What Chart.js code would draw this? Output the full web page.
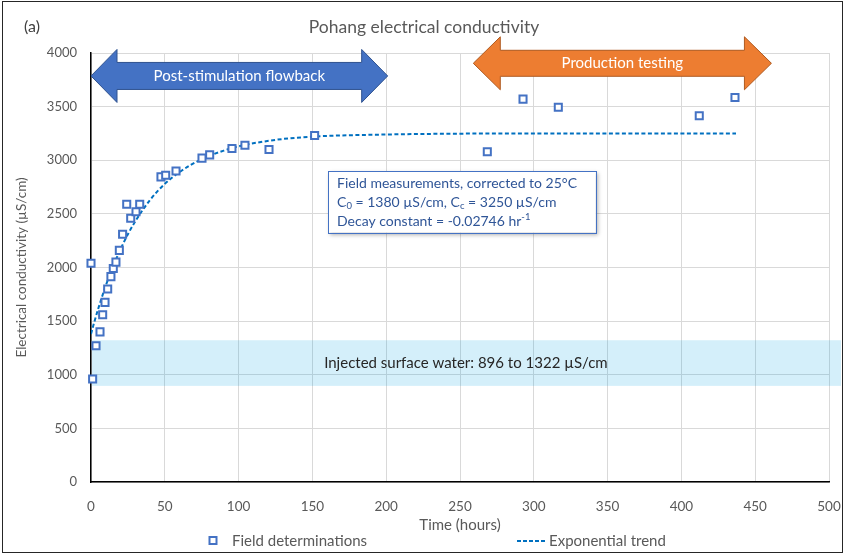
<!DOCTYPE html>
<html>
<head>
<meta charset="utf-8">
<title>Pohang electrical conductivity</title>
<script src="https://cdn.jsdelivr.net/npm/chart.js@4.4.1/dist/chart.umd.min.js"></script>
<style>
  html, body { margin: 0; padding: 0; background: #fff; }
  #wrap { width: 844px; height: 554px; }
</style>
</head>
<body>
<div id="wrap"><canvas id="myChart" width="844" height="554"></canvas></div>
<script>
'use strict';

// **************************** DATA ****************************

// field determinations
let fieldHours = [0, 1.1, 3.4, 6.1, 7.9, 9.5, 11.3, 13.5, 15.1, 16.9, 19.2, 21.4, 24.2, 26.9, 30.5, 33,
  47.4, 50.6, 57.6, 75.2, 80.4, 95.5, 104.3, 120.6, 151.5, 268.5, 292.7, 316.6, 412.1, 436.3];
let fieldEC = [2040, 960, 1270, 1400, 1560, 1675, 1800, 1915, 1990, 2050, 2160, 2310, 2590, 2460, 2520, 2590,
  2845, 2860, 2900, 3020, 3050, 3110, 3140, 3100, 3230, 3080, 3570, 3495, 3415, 3585];

// exponential trend
let trendHours = [0, 2, 5, 10, 15, 20, 25, 30, 40, 50, 60, 75, 90, 100, 125, 150, 200, 250, 300, 437];
let trendEC = [1380, 1480, 1620, 1830, 2010, 2170, 2310, 2430, 2630, 2780, 2890, 3010, 3090, 3130, 3190, 3220, 3240, 3248, 3250, 3250];

let xTicks = [0, 50, 100, 150, 200, 250, 300, 350, 400, 450, 500];
let yTicks = [0, 500, 1000, 1500, 2000, 2500, 3000, 3500, 4000];

// injected surface water range (µS/cm)
let bandLow = 896;
let bandHigh = 1322;

// period arrows (hours)
let flowbackPeriod = [0, 201];
let productionPeriod = [259, 461];

// **************************** STYLE ****************************

let fontFamily = 'Lato, "Open Sans", sans-serif';
let textGrey = '#595959';
let markerBlue = '#4472C4';
let trendBlue = '#0070C0';

// **************************** CANVAS REFERENCE ****************************

let ctx = document.getElementById('myChart');

// **************************** HELPERS ****************************

function drawDoubleArrow(c, x1, x2, yMid, bodyHalf, headHalf, headLen, fill, stroke, label) {
  c.save();
  c.beginPath();
  c.moveTo(x1, yMid);
  c.lineTo(x1 + headLen, yMid - headHalf);
  c.lineTo(x1 + headLen, yMid - bodyHalf);
  c.lineTo(x2 - headLen, yMid - bodyHalf);
  c.lineTo(x2 - headLen, yMid - headHalf);
  c.lineTo(x2, yMid);
  c.lineTo(x2 - headLen, yMid + headHalf);
  c.lineTo(x2 - headLen, yMid + bodyHalf);
  c.lineTo(x1 + headLen, yMid + bodyHalf);
  c.lineTo(x1 + headLen, yMid + headHalf);
  c.closePath();
  c.fillStyle = fill;
  c.fill();
  c.lineWidth = 1;
  c.strokeStyle = stroke;
  c.stroke();
  c.fillStyle = '#ffffff';
  c.font = '15px ' + fontFamily;
  c.textAlign = 'center';
  c.textBaseline = 'middle';
  c.fillText(label, (x1 + x2) / 2, yMid);
  c.restore();
}

// draws a list of [text, mode] pieces; mode '' normal, 'sub' subscript, 'sup' superscript
function drawRichLine(c, pieces, x, y) {
  let cx = x;
  for (let i = 0; i < pieces.length; i++) {
    let txt = pieces[i][0];
    let mode = pieces[i][1];
    let dy = 0;
    if (mode === 'sub') {
      c.font = '9.5px ' + fontFamily;
      dy = 3;
    } else if (mode === 'sup') {
      c.font = '9.5px ' + fontFamily;
      dy = -5;
    } else {
      c.font = '14px ' + fontFamily;
    }
    c.fillText(txt, cx, y + dy);
    cx += c.measureText(txt).width;
  }
}

// **************************** PLUGINS ****************************

let bandPlugin = {
  id: 'bandPlugin',
  beforeDatasetsDraw(chart) {
    let c = chart.ctx;
    let area = chart.chartArea;
    let yScale = chart.scales.y;
    let xScale = chart.scales.x;
    let yTop = yScale.getPixelForValue(bandHigh);
    let yBot = yScale.getPixelForValue(bandLow);
    c.save();
    c.fillStyle = 'rgba(0, 160, 225, 0.17)';
    c.fillRect(area.left + 1, yTop, chart.width - 3 - area.left - 1, yBot - yTop);
    c.fillStyle = '#262626';
    c.font = '15px ' + fontFamily;
    c.textAlign = 'center';
    c.textBaseline = 'middle';
    c.fillText('Injected surface water: ' + bandLow + ' to ' + bandHigh + ' \u00B5S/cm',
      xScale.getPixelForValue(254), (yTop + yBot) / 2);
    c.restore();
  }
};

let annotationPlugin = {
  id: 'annotationPlugin',
  afterDraw(chart) {
    let c = chart.ctx;
    let xScale = chart.scales.x;
    let yScale = chart.scales.y;

    // titles
    c.save();
    c.textBaseline = 'middle';
    c.fillStyle = '#404040';
    c.font = '16px ' + fontFamily;
    c.textAlign = 'left';
    c.fillText('(a)', 24, 27);
    c.fillStyle = textGrey;
    c.font = '17.5px ' + fontFamily;
    c.textAlign = 'center';
    c.fillText('Pohang electrical conductivity', 424, 27);
    c.restore();

    // period arrows
    drawDoubleArrow(c, xScale.getPixelForValue(flowbackPeriod[0]), xScale.getPixelForValue(flowbackPeriod[1]),
      yScale.getPixelForValue(3786), 13.5, 26.5, 26, '#4472C4', '#2F528F', 'Post-stimulation flowback');
    drawDoubleArrow(c, xScale.getPixelForValue(productionPeriod[0]), xScale.getPixelForValue(productionPeriod[1]),
      yScale.getPixelForValue(3904), 13, 26.5, 27, '#ED7D31', '#AE5A21', 'Production testing');

    // text box
    let bx1 = xScale.getPixelForValue(160.6);
    let bx2 = xScale.getPixelForValue(342);
    let by1 = yScale.getPixelForValue(2900);
    let by2 = yScale.getPixelForValue(2325);
    c.save();
    c.shadowColor = 'rgba(0, 0, 0, 0.3)';
    c.shadowBlur = 4;
    c.shadowOffsetX = 2;
    c.shadowOffsetY = 2;
    c.fillStyle = '#ffffff';
    c.fillRect(bx1, by1, bx2 - bx1, by2 - by1);
    c.restore();
    c.save();
    c.strokeStyle = markerBlue;
    c.lineWidth = 1;
    c.strokeRect(Math.round(bx1) + 0.5, Math.round(by1) + 0.5, Math.round(bx2 - bx1), Math.round(by2 - by1));
    c.fillStyle = '#2F5597';
    c.textAlign = 'left';
    c.textBaseline = 'middle';
    drawRichLine(c, [['Field measurements, corrected to 25\u00B0C', '']], bx1 + 9, by1 + 13);
    drawRichLine(c, [['C', ''], ['0', 'sub'], [' = 1380 \u00B5S/cm, C', ''], ['c', 'sub'], [' = 3250 \u00B5S/cm', '']], bx1 + 9, by1 + 32);
    drawRichLine(c, [['Decay constant = -0.02746 hr', ''], ['-1', 'sup']], bx1 + 9, by1 + 51);
    c.restore();

    // legend
    let ly = 541;
    c.save();
    c.strokeStyle = markerBlue;
    c.lineWidth = 2;
    c.strokeRect(209.5, ly - 4, 7, 7);
    c.strokeStyle = trendBlue;
    c.setLineDash([4, 2]);
    c.beginPath();
    c.moveTo(517, ly);
    c.lineTo(547, ly);
    c.stroke();
    c.setLineDash([]);
    c.fillStyle = textGrey;
    c.font = '15px ' + fontFamily;
    c.textAlign = 'left';
    c.textBaseline = 'middle';
    c.fillText('Field determinations', 232, ly);
    c.fillText('Exponential trend', 549, ly);
    c.restore();

    // outer frame
    c.save();
    c.strokeStyle = '#262626';
    c.lineWidth = 1;
    c.strokeRect(2.5, 1.5, chart.width - 4, chart.height - 3);
    c.restore();
  }
};

// **************************** CREATE CHART ****************************

function renderChart() {
  let fieldPoints = [];
  for (let i = 0; i < fieldHours.length; i++) {
    fieldPoints.push({ x: fieldHours[i], y: fieldEC[i] });
  }
  let trendPoints = [];
  for (let i = 0; i < trendHours.length; i++) {
    trendPoints.push({ x: trendHours[i], y: trendEC[i] });
  }

  let myChartObj = {
    type: 'scatter',
    data: {
      datasets: [{
        label: 'Field determinations',
        data: fieldPoints,
        pointStyle: 'rect',
        pointRadius: 5,
        pointHoverRadius: 5,
        pointBorderWidth: 2,
        pointBorderColor: markerBlue,
        pointBackgroundColor: '#ffffff',
        showLine: false,
        clip: false,
        order: 1
      },
      {
        label: 'Exponential trend',
        data: trendPoints,
        showLine: true,
        borderColor: trendBlue,
        borderWidth: 2,
        borderDash: [4, 2.5],
        pointRadius: 0,
        cubicInterpolationMode: 'monotone',
        order: 2
      }]
    },
    options: {
      responsive: false,
      animation: false,
      layout: { padding: { top: 53, right: 15, left: 0, bottom: 0 } },
      plugins: {
        legend: { display: false },
        tooltip: { enabled: false }
      },
      scales: {
        x: {
          type: 'linear',
          min: 0,
          max: 500,
          afterBuildTicks: (scale) => { scale.ticks = xTicks.map(v => ({ value: v })); },
          afterFit: (scale) => {
            scale.height = 72;
            scale.paddingLeft = 0;
            scale.paddingRight = 0;
          },
          grid: { color: '#D9D9D9', drawTicks: false },
          border: { color: '#000000', width: 1.5 },
          ticks: {
            color: textGrey,
            font: { family: fontFamily, size: 13.5 },
            padding: 17,
            maxRotation: 0,
            callback: (v) => String(v)
          },
          title: {
            display: true,
            text: 'Time (hours)',
            color: textGrey,
            font: { family: fontFamily, size: 15 },
            padding: { top: 0, bottom: 20 }
          }
        },
        y: {
          type: 'linear',
          min: 0,
          max: 4000,
          afterBuildTicks: (scale) => { scale.ticks = yTicks.map(v => ({ value: v })); },
          afterFit: (scale) => {
            scale.width = 91;
            scale.paddingTop = 0;
            scale.paddingBottom = 0;
          },
          grid: { color: '#D9D9D9', drawTicks: false },
          border: { color: '#000000', width: 1.5 },
          ticks: {
            color: textGrey,
            font: { family: fontFamily, size: 13 },
            padding: 14,
            callback: (v) => String(v)
          },
          title: {
            display: true,
            text: 'Electrical conductivity (\u00B5S/cm)',
            color: textGrey,
            font: { family: fontFamily, size: 13.5 },
            padding: { top: 14, bottom: 0 }
          }
        }
      }
    },
    plugins: [bandPlugin, annotationPlugin]
  };

  new Chart(ctx, myChartObj);
}

renderChart();
</script>
</body>
</html>
